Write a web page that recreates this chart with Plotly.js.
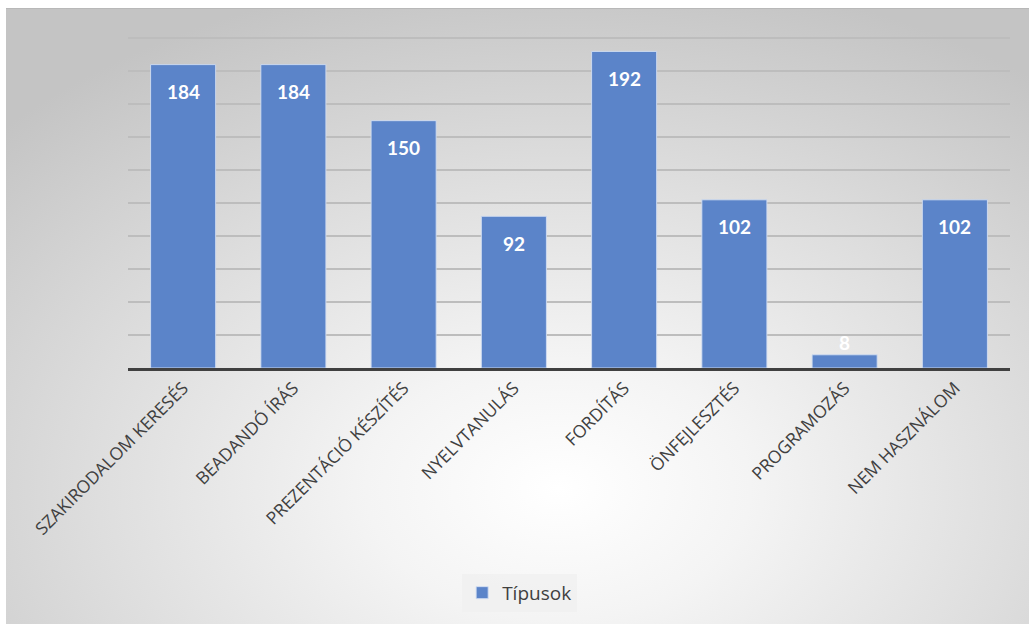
<!DOCTYPE html>
<html>
<head>
<meta charset="utf-8">
<script src="https://cdn.plot.ly/plotly-3.0.1.min.js"></script>
<style>
  html, body { margin: 0; padding: 0; background: #ffffff; }
  #frame {
    position: absolute; left: 6px; top: 8px; width: 1023px; height: 616px;
    background: radial-gradient(ellipse 75% 85% at 54% 78%, #ffffff 0%, #f4f4f4 25%, #dedede 60%, #c4c4c4 100%);
    border-top: 1px solid #b8b8b8;
    box-sizing: border-box;
  }
  #chart { position: absolute; left: 0; top: 0; width: 1029px; height: 624px; }
</style>
</head>
<body>
<div id="frame"></div>
<div id="chart"></div>
<script>
const categories = ["SZAKIRODALOM KERESÉS", "BEADANDÓ ÍRÁS", "PREZENTÁCIÓ KÉSZÍTÉS", "NYELVTANULÁS", "FORDÍTÁS", "ÖNFEJLESZTÉS", "PROGRAMOZÁS", "NEM HASZNÁLOM"];
const values = [184, 184, 150, 92, 192, 102, 8, 102];
const seriesName = "Típusok";

const trace = {
  type: 'bar',
  x: categories,
  y: values,
  name: seriesName,
  marker: { color: '#5b84c9', line: { color: 'rgba(210,222,242,0.9)', width: 1 } },
  showlegend: true,
  hoverinfo: 'x+y'
};

const annotations = values.map((v, i) => ({
  x: categories[i],
  y: v,
  xref: 'x', yref: 'y',
  text: String(v),
  showarrow: false,
  yanchor: 'middle',
  yshift: v > 20 ? -27 : 12,
  font: { family: 'Lato, "Open Sans", sans-serif', size: 19, color: '#ffffff', weight: 'bold' }
}));

const layout = {
  width: 1029, height: 624,
  margin: { l: 128, r: 19, t: 30, b: 256 },
  paper_bgcolor: 'rgba(0,0,0,0)',
  plot_bgcolor: 'rgba(0,0,0,0)',
  bargap: 0.41,
  font: { family: '"Open Sans", sans-serif', color: '#404040' },
  xaxis: {
    tickangle: -45,
    tickfont: { size: 17.5, color: '#404040', family: '"Open Sans", sans-serif' },
    showline: true, linecolor: '#404040', linewidth: 3,
    ticks: '', showgrid: false, zeroline: false
  },
  yaxis: {
    range: [0, 205],
    dtick: 20,
    showticklabels: false,
    showgrid: true, gridcolor: '#bdbdbd', gridwidth: 1.5,
    zeroline: false, showline: false, ticks: ''
  },
  showlegend: true,
  legend: {
    orientation: 'h',
    xref: 'container', yref: 'container',
    x: 0.505, xanchor: 'center',
    y: 0.05, yanchor: 'middle',
    bgcolor: 'rgba(240,240,240,0.8)',
    font: { size: 19, color: '#404040', family: '"Open Sans", sans-serif' },
    itemwidth: 30
  },
  annotations: annotations
};

Plotly.newPlot('chart', [trace], layout, { displayModeBar: false, staticPlot: true });
</script>
</body>
</html>
